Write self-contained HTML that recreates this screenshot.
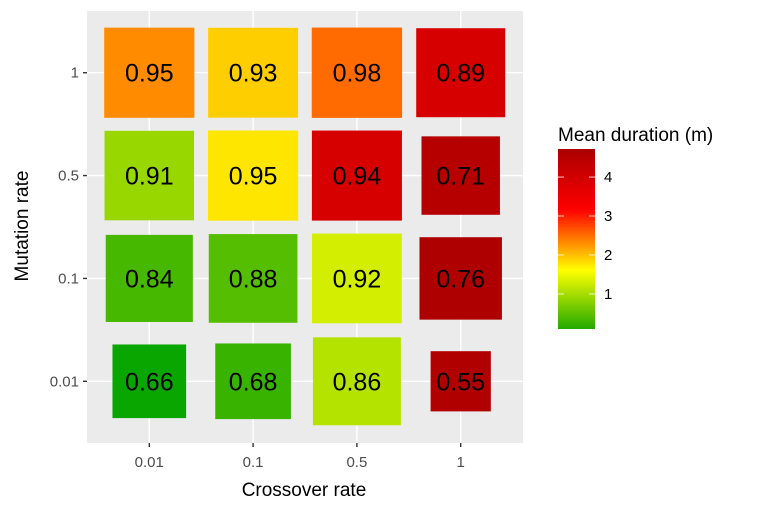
<!DOCTYPE html>
<html><head><meta charset="utf-8"><style>
body{margin:0;background:#fff;font-family:"Liberation Sans",sans-serif}
</style></head><body>
<svg id="chart" width="771" height="506" xmlns="http://www.w3.org/2000/svg" font-family="Liberation Sans, sans-serif">
<defs><linearGradient id="lg" x1="0" y1="1" x2="0" y2="0">
<stop offset="0" stop-color="#22AA00"/><stop offset="0.326" stop-color="#FFFF00"/><stop offset="0.663" stop-color="#FF0000"/><stop offset="1" stop-color="#AA0000"/>
</linearGradient></defs>
<g id="plot"></g>
<text x="304" y="496" text-anchor="middle" font-size="19">Crossover rate</text>
<text transform="translate(28,226) rotate(-90)" text-anchor="middle" font-size="19">Mutation rate</text>
<text x="558" y="141" font-size="19">Mean duration (m)</text>
<rect x="558" y="149" width="37" height="180" fill="url(#lg)"/>
<g id="legend"></g>
</svg>
<script>
const xCats=["0.01","0.1","0.5","1"];
const yCats=["0.01","0.1","0.5","1"];
// rows by yCats, cols by xCats
const accuracy=[[0.66,0.68,0.86,0.55],[0.84,0.88,0.92,0.76],[0.91,0.95,0.94,0.71],[0.95,0.93,0.98,0.89]];
const duration=[[0.05,0.25,1.1,4.6],[0.35,0.45,1.3,4.65],[0.9,1.75,3.9,4.5],[2.3,1.9,2.5,3.9]];
const legendTicks=[1,2,3,4];
const NS="http://www.w3.org/2000/svg";
const P={l:87,r:523,t:11,b:443};
const xs=i=>P.l+(P.r-P.l)*(i+0.6)/4.2;
const ys=j=>P.b-(P.b-P.t)*(j+0.6)/4.2;
const unit=(P.r-P.l)/4.2;
function sizeScale(v){const t=Math.max(0,(0.98-v)/0.43);return unit*(0.87-0.29*t*t);}
const stops=[[0.1,[34,170,0]],[1.6,[255,255,0]],[3.15,[255,0,0]],[4.72,[170,0,0]]];
function col(d){if(d<stops[0][0])return "rgb(10,166,0)";d=Math.min(stops[3][0],d);for(let k=0;k<3;k++){const a=stops[k],b=stops[k+1];if(d<=b[0]){const t=(d-a[0])/(b[0]-a[0]);return "rgb("+a[1].map((c,i)=>Math.round(c+(b[1][i]-c)*t)).join(",")+")";}}}
const lgY=v=>329-(v-0.1)/(4.72-0.1)*180;
function mk(tag,attrs,parent){const e=document.createElementNS(NS,tag);for(const k in attrs)e.setAttribute(k,attrs[k]);parent.appendChild(e);return e;}
const g=document.getElementById('plot');
const bg=mk('rect',{x:P.l,y:P.t,width:P.r-P.l,height:P.b-P.t,fill:'#EBEBEB'},g);


xCats.forEach((c,i)=>{
 const l=mk('line',{x1:xs(i),x2:xs(i),y1:P.t,y2:P.b,stroke:'#fff','stroke-width':1.4},g);
 
 
 const tk=mk('line',{x1:xs(i),x2:xs(i),y1:P.b,y2:P.b+4,stroke:'#333','stroke-width':1.4},g);
 
 
 const t=mk('text',{x:xs(i),y:P.b+24,'text-anchor':'middle','font-size':15,fill:'#4D4D4D'},g);t.textContent=c;
 
 
});
yCats.forEach((c,j)=>{
 const l=mk('line',{x1:P.l,x2:P.r,y1:ys(j),y2:ys(j),stroke:'#fff','stroke-width':1.4},g);
 
 
 const tk=mk('line',{x1:P.l-4,x2:P.l,y1:ys(j),y2:ys(j),stroke:'#333','stroke-width':1.4},g);
 
 
 const t=mk('text',{x:P.l-8,y:ys(j)+5,'text-anchor':'end','font-size':15,fill:'#4D4D4D'},g);t.textContent=c;
 
 
});
yCats.forEach((yc,j)=>xCats.forEach((xc,i)=>{
 const v=accuracy[j][i],s=sizeScale(v);
 const r=mk('rect',{x:xs(i)-s/2,y:ys(j)-s/2,width:s,height:s,fill:col(duration[j][i])},g);
 
 
 const t=mk('text',{x:xs(i),y:ys(j)+9,'text-anchor':'middle','font-size':25,fill:'#000'},g);t.textContent=v.toFixed(2);
 
 
}));
const lg=document.getElementById('legend');
legendTicks.forEach(v=>{
 const y=lgY(v);
 mk('line',{x1:558,x2:564,y1:y,y2:y,stroke:'#fff','stroke-width':1,opacity:0.8},lg);
 mk('line',{x1:589,x2:595,y1:y,y2:y,stroke:'#fff','stroke-width':1,opacity:0.8},lg);
 const t=mk('text',{x:604,y:y+5,'font-size':15,fill:'#000'},lg);t.textContent=v;
 
 
});
</script>
</body></html>
